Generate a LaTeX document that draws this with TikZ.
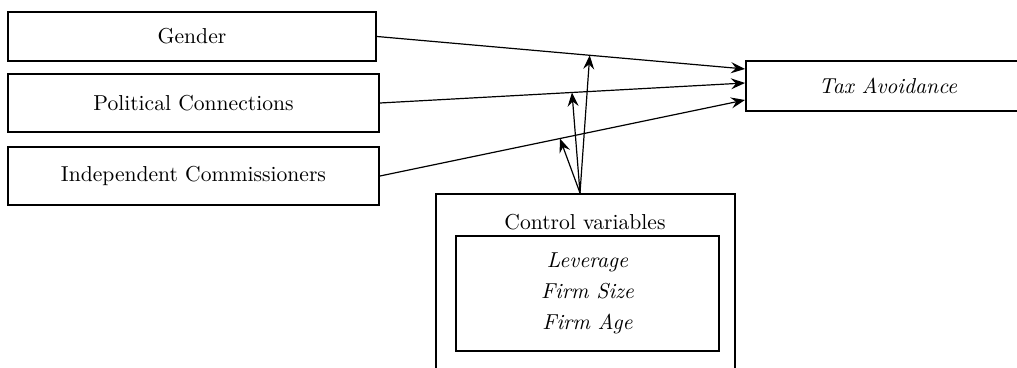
\documentclass[tikz,border=0pt]{standalone}
\usetikzlibrary{arrows.meta,calc}

\begin{document}
\begin{tikzpicture}[x=0.5pt,y=-0.5pt,
    varbox/.style={draw, line width=1pt, inner sep=0pt, font=\fontsize{10.8}{13}\selectfont},
    link/.style={-{Stealth[length=7pt,width=5.5pt,inset=2.5pt]}, line width=0.6pt}]
  \useasboundingbox (0,0) rectangle (1017,368);

  % independent variables
  \node[varbox, minimum width=184pt, minimum height=24.5pt] (gender) at (192,36.5) {Gender};
  \node[varbox, minimum width=185.5pt, minimum height=29pt] (polcon) at (193.5,103) {Political Connections};
  \node[varbox, minimum width=185.5pt, minimum height=29pt] (indcom) at (193.5,176) {Independent Commissioners};

  % dependent variable (box runs off the right edge)
  \node[varbox, minimum width=142pt, minimum height=25pt] (tax) at (888,86) {\itshape Tax Avoidance};

  % controls
  \node[varbox, minimum width=149.5pt, minimum height=93pt] (control) at (585.5,287) {};
  \node[font=\fontsize{10.8}{13}\selectfont] (ctltitle) at (585,222) {Control variables};
  \node[varbox, minimum width=131.5pt, minimum height=57.5pt, align=center,
        font=\fontsize{10.8}{15.5}\selectfont\itshape] (ctllist) at (587.5,293.5)
        {Leverage\\Firm Size\\Firm Age};

  \draw[link] (gender.east) -- coordinate[pos=0.578] (gm) ($(tax.west)+(0,-17)$);
  \draw[link] (polcon.east) -- coordinate[pos=0.526] (pm) ($(tax.west)+(0,-3)$);
  \draw[link] (indcom.east) -- coordinate[pos=0.493] (im) ($(tax.west)+(0,14)$);

  \coordinate (src) at ($(control.north)+(-5.5,0)$);
  \foreach \t in {gm, pm, im}{
    \draw[link] (src) -- (\t);
  }
\end{tikzpicture}
\end{document}
